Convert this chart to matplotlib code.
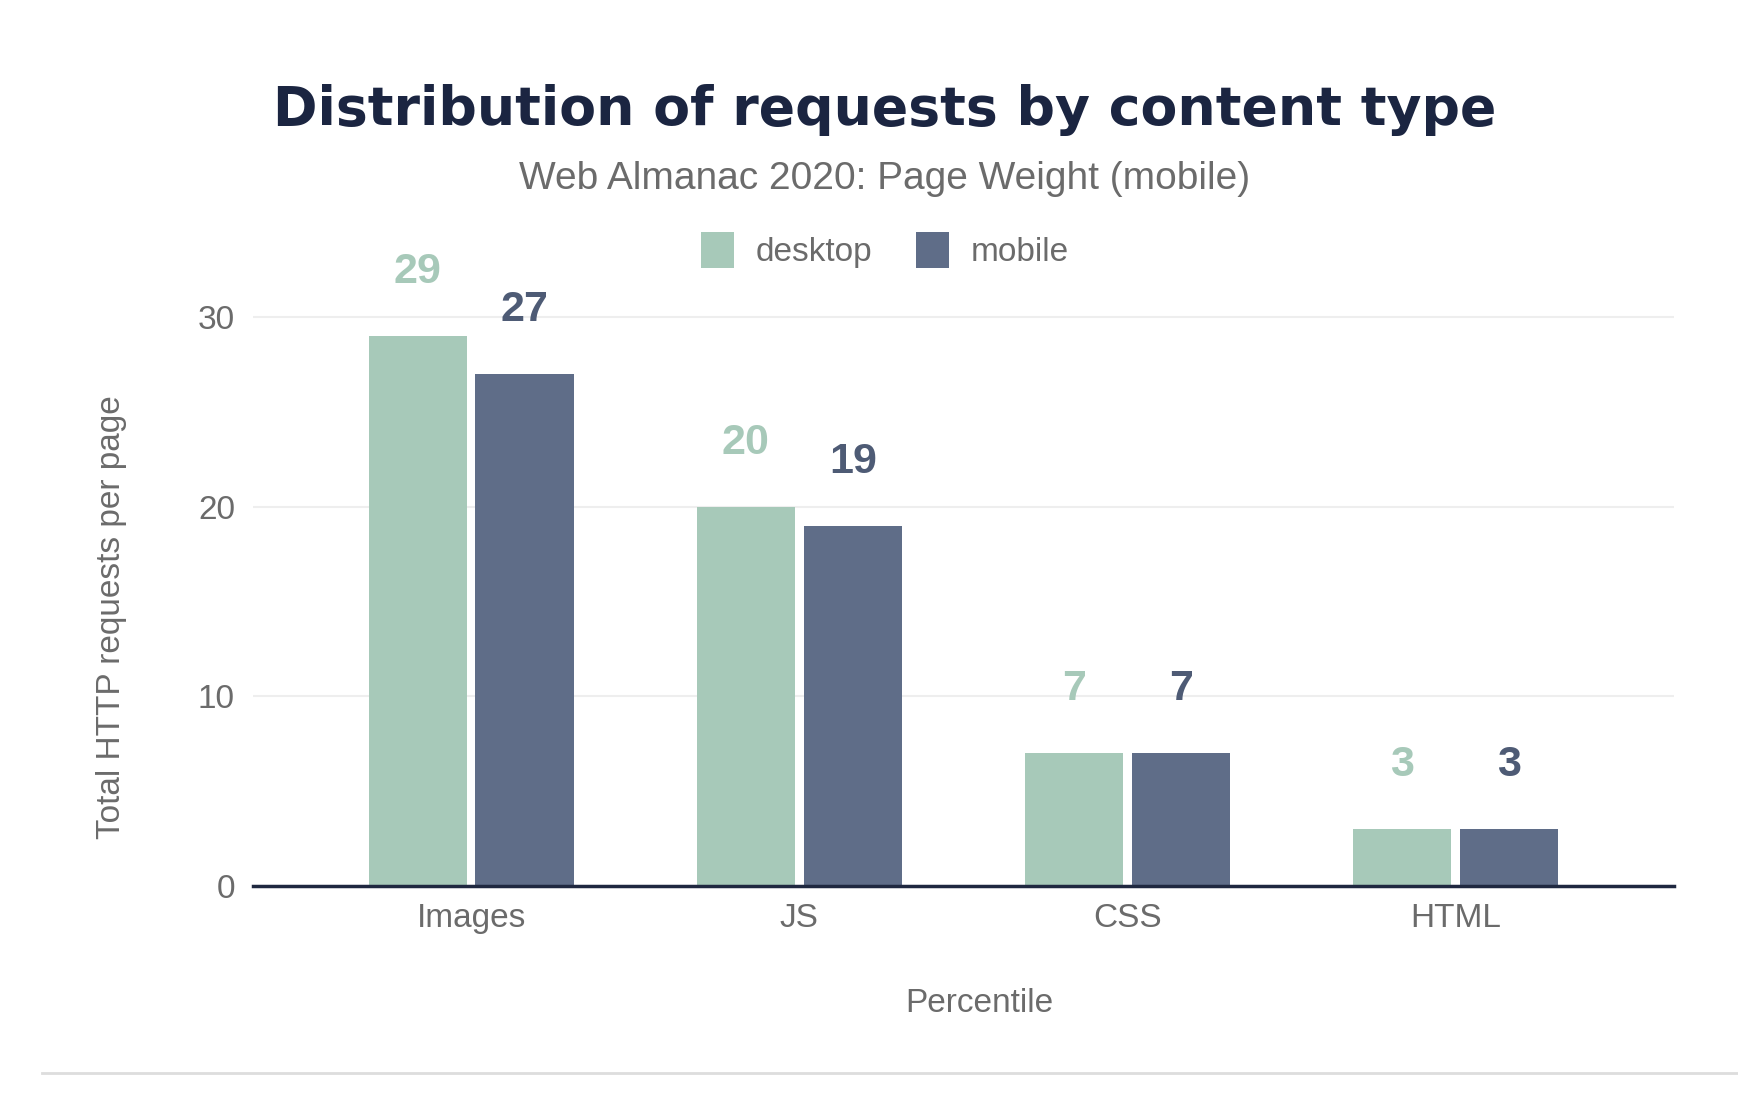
import matplotlib
matplotlib.use("Agg")
import matplotlib.pyplot as plt
import numpy as np
from matplotlib.lines import Line2D
from matplotlib.patches import Patch

categories = ["Images", "JS", "CSS", "HTML"]
desktop = [29, 20, 7, 3]
mobile = [27, 19, 7, 3]
yticks = [0, 10, 20, 30]

C_DESK = "#a7c9b9"
C_MOB = "#5f6d88"
C_MOB_TXT = "#4e5b75"
C_TXT = "#6b6b6b"
C_TITLE = "#1b2541"

plt.rcParams['font.family'] = ['Liberation Sans', 'DejaVu Sans']

fig = plt.figure(figsize=(17.38, 11.03), dpi=100)
ax = fig.add_axes([0.1456, 0.1967, 0.963 - 0.1456, 0.5503])

x = np.arange(len(categories))
w = 0.30
off = 0.163
b1 = ax.bar(x - off, desktop, width=w, color=C_DESK, zorder=3)
b2 = ax.bar(x + off, mobile, width=w, color=C_MOB, zorder=3)

for xi, v in zip(x - off, desktop):
    ax.annotate(str(v), (xi, v), xytext=(0, 46), textcoords="offset points",
                ha="center", va="center", fontsize=31, fontweight="bold", color=C_DESK)
for xi, v in zip(x + off, mobile):
    ax.annotate(str(v), (xi, v), xytext=(0, 46), textcoords="offset points",
                ha="center", va="center", fontsize=31, fontweight="bold", color=C_MOB_TXT)

ax.set_xlim(-0.665, 3.665)
ax.set_ylim(0, 32)
ax.set_yticks(yticks)
ax.set_xticks(x)
ax.set_xticklabels(categories)
ax.tick_params(axis="both", length=0, labelsize=24, colors=C_TXT)
ax.tick_params(axis="x", pad=12)
ax.tick_params(axis="y", pad=13)
ax.grid(axis="y", color="#eeeeee", linewidth=1.5, zorder=0)
for s in ["top", "right", "left"]:
    ax.spines[s].set_visible(False)
ax.spines["bottom"].set_color("#1f2840")
ax.spines["bottom"].set_linewidth(2.5)
ax.spines["bottom"].set_zorder(4)

ax.set_ylabel("Total HTTP requests per page", fontsize=24, color=C_TXT)
ax.yaxis.set_label_coords(-0.089, 0.443)
ax.set_xlabel("Percentile", fontsize=24, color=C_TXT, labelpad=39)
ax.xaxis.label.set_x(0.511)

fig.text(0.509, 0.900, "Distribution of requests by content type", ha="center", va="center",
         fontsize=38.7, fontweight="bold", color=C_TITLE, family=["DejaVu Sans"])
fig.text(0.509, 0.838, "Web Almanac 2020: Page Weight (mobile)", ha="center", va="center",
         fontsize=28, color=C_TXT)

handles = [Patch(facecolor=C_DESK, label="desktop"), Patch(facecolor=C_MOB, label="mobile")]
fig.legend(handles=handles, loc="center", bbox_to_anchor=(0.509, 0.773), ncol=2, frameon=False,
           fontsize=24, labelcolor=C_TXT, handlelength=1.0, handleheight=1.25,
           handletextpad=0.65, columnspacing=1.3)

fig.add_artist(Line2D([0.024, 1.0], [0.027, 0.027], transform=fig.transFigure,
                      color="#dddddd", linewidth=2))

fig.savefig("out.png", dpi=100, facecolor="white")
